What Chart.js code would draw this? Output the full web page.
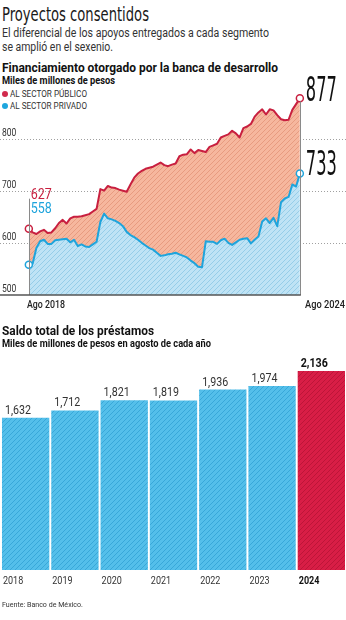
<!DOCTYPE html>
<html>
<head>
<meta charset="utf-8">
<script src="https://cdn.jsdelivr.net/npm/chart.js@4"></script>
<style>
html, body { margin: 0; padding: 0; background: #fff; }
body { width: 346px; height: 620px; position: relative; overflow: hidden; font-family: Roboto, "Open Sans", sans-serif; color: #222; }
.t { position: absolute; left: 2px; white-space: nowrap; line-height: 1; transform-origin: 0 50%; }
.b { font-weight: 700; color: #111; }
.dot { position: absolute; left: 2px; width: 6px; height: 6px; border-radius: 50%; }
canvas { position: absolute; left: 0; }
</style>
</head>
<body>
<div class="t" style="top:4px;font-size:20px;font-family:'Liberation Sans Narrow','DejaVu Sans Condensed',sans-serif;color:#1a1a1a" data-w="147">Proyectos consentidos</div>
<div class="t" style="top:27px;font-size:12.5px;color:#333" data-w="267">El diferencial de los apoyos entregados a cada segmento</div>
<div class="t" style="top:41px;font-size:12.5px;color:#333" data-w="111">se amplió en el sexenio.</div>

<div class="t b" style="top:62px;font-size:12.5px" data-w="276">Financiamiento otorgado por la banca de desarrollo</div>
<div class="t b" style="top:76px;font-size:10px" data-w="113">Miles de millones de pesos</div>
<div class="dot" style="top:91px;background:#d12a4d"></div>
<div class="t" style="left:10px;top:90px;font-size:9px;color:#333" data-w="77">AL SECTOR PÚBLICO</div>
<div class="dot" style="top:103px;background:#1ea6de"></div>
<div class="t" style="left:10px;top:102px;font-size:9px;color:#333" data-w="77">AL SECTOR PRIVADO</div>

<canvas id="lineas" width="346" height="250" style="top:60px;width:346px;height:250px"></canvas>
<div class="t" id="xIni" style="left:27px;top:300px;font-size:10px;font-weight:500;color:#222" data-w="38"></div>
<div class="t" id="xFin" style="left:305px;top:300px;font-size:10px;font-weight:500;color:#222" data-w="40"></div>

<div class="t b" style="top:325px;font-size:12.5px" data-w="152">Saldo total de los préstamos</div>
<div class="t b" style="top:339px;font-size:10px" data-w="209">Miles de millones de pesos en agosto de cada año</div>

<canvas id="barras" width="346" height="242" style="top:350px;width:346px;height:242px"></canvas>

<div class="t" style="top:601px;font-size:8px;color:#333" data-w="81">Fuente: Banco de México.</div>

<script>
// --- datos ---
const ejeX = ['Ago 2018', 'Ago 2024'];
const ejeY = [500, 600, 700, 800];

// mensual, ago 2018 - ago 2024
const publico = [
  627, 620, 617, 622, 625, 619, 620, 628, 638, 644,
  637, 647, 650, 650, 651, 653, 655, 660, 665, 703,
  700, 709, 706, 705, 702, 700, 698, 712, 725, 733,
  738, 742, 744, 746, 750, 754, 749, 747, 750, 752,
  766, 769, 770, 779, 772, 778, 776, 774, 784, 787,
  790, 802, 805, 808, 815, 810, 802, 820, 823, 828,
  842, 850, 856, 846, 856, 854, 845, 837, 835, 836,
  855, 866, 877
];
const privado = [
  558, 560, 590, 603, 606, 598, 598, 605, 606, 607,
  608, 601, 606, 594, 597, 593, 592, 597, 602, 640,
  656, 647, 645, 642, 638, 632, 621, 615, 611, 606,
  600, 595, 590, 587, 581, 575, 576, 578, 579, 581,
  578, 575, 572, 566, 561, 554, 553, 603, 602, 602,
  598, 605, 608, 600, 596, 601, 606, 608, 609, 599,
  606, 612, 641, 647, 638, 648, 632, 678, 685, 688,
  712, 708, 733
];

const anios = ['2018', '2019', '2020', '2021', '2022', '2023', '2024'];
const saldo = [1632, 1712, 1821, 1819, 1936, 1974, 2136];

// --- colores ---
const ROJO = '#c81f3f';
const AZUL = '#1ea4dc';

function rayado(base, linea) {
  const c = document.createElement('canvas');
  c.width = 5; c.height = 5;
  const g = c.getContext('2d');
  g.fillStyle = base;
  g.fillRect(0, 0, 5, 5);
  g.strokeStyle = linea;
  g.lineWidth = 1;
  g.beginPath();
  g.moveTo(-1, 6); g.lineTo(6, -1);
  g.moveTo(-1, 1); g.lineTo(1, -1);
  g.moveTo(4, 6); g.lineTo(6, 4);
  g.stroke();
  return g.createPattern(c, 'repeat');
}

// texto comprimido a un ancho
function textoAncho(ctx, txt, x, y, w) {
  const m = ctx.measureText(txt).width;
  ctx.save();
  ctx.translate(x, y);
  ctx.scale(w / m, 1);
  ctx.fillText(txt, 0, 0);
  ctx.restore();
}

function textoEscala(ctx, txt, x, y, s) {
  ctx.save();
  ctx.translate(x, y);
  ctx.scale(s, 1);
  ctx.fillText(txt, 0, 0);
  ctx.restore();
}

document.getElementById('xIni').textContent = ejeX[0];
document.getElementById('xFin').textContent = ejeX[1];

// ajustar anchos de textos html
document.querySelectorAll('[data-w]').forEach(el => {
  const w = el.getBoundingClientRect().width;
  el.style.transform = 'scaleX(' + (parseFloat(el.dataset.w) / w) + ')';
});

// --- grafica de lineas ---
const ultimo = publico.length - 1;

const decoLineas = {
  id: 'decoLineas',
  beforeDatasetsDraw(chart) {
    const { ctx, scales: { x, y }, width } = chart;
    ctx.save();
    ctx.font = '10px Roboto';
    ctx.fillStyle = '#333';
    ctx.textBaseline = 'bottom';
    ejeY.forEach(v => {
      const py = Math.round(y.getPixelForValue(v)) + 0.5;
      if (v !== ejeY[0]) {
        ctx.strokeStyle = '#a0a0a0';
        ctx.lineWidth = 1;
        ctx.setLineDash([1, 2]);
        ctx.beginPath();
        ctx.moveTo(0, py);
        ctx.lineTo(width, py);
        ctx.stroke();
        ctx.setLineDash([]);
      }
      textoEscala(ctx, String(v), 2, py - 1, 0.85);
    });
    ctx.restore();
  },
  afterDatasetsDraw(chart) {
    const { ctx, scales: { x, y } } = chart;
    const x0 = x.getPixelForValue(0);
    const x1 = x.getPixelForValue(ultimo);
    const base = y.getPixelForValue(ejeY[0]);
    ctx.save();
    // guias verticales
    ctx.strokeStyle = '#8a8a8a';
    ctx.lineWidth = 1;
    ctx.beginPath();
    ctx.moveTo(Math.round(x0) + 0.5, y.getPixelForValue(ejeY[2]) + 8);
    ctx.lineTo(Math.round(x0) + 0.5, base);
    ctx.moveTo(Math.round(x1) + 0.5, y.getPixelForValue(publico[ultimo]) + 3);
    ctx.lineTo(Math.round(x1) + 0.5, base);
    ctx.stroke();
    // eje base
    ctx.strokeStyle = '#555';
    ctx.lineWidth = 1.5;
    ctx.beginPath();
    ctx.moveTo(0, base);
    ctx.lineTo(x1 + 1, base);
    ctx.stroke();

    // valores iniciales
    const yl = y.getPixelForValue(ejeY[2]);
    ctx.font = '15px Roboto';
    ctx.textBaseline = 'alphabetic';
    ctx.fillStyle = ROJO;
    textoAncho(ctx, String(publico[0]), x0 + 2, yl + 8, 21);
    ctx.fillStyle = AZUL;
    textoAncho(ctx, String(privado[0]), x0 + 2, yl + 22, 21);

    // valores finales
    ctx.fillStyle = '#111';
    ctx.font = '33px "Liberation Sans Narrow", "DejaVu Sans Condensed", Roboto';
    textoAncho(ctx, String(publico[ultimo]), x1 + 6, y.getPixelForValue(publico[ultimo]) + 3, 31);
    textoAncho(ctx, String(privado[ultimo]), x1 + 6, y.getPixelForValue(privado[ultimo]) + 1.5, 31);
    ctx.restore();
  }
};

const puntoFin = c => (c.dataIndex === 0 || c.dataIndex === ultimo) ? 3.5 : 0;

new Chart(document.getElementById('lineas'), {
  type: 'line',
  data: {
    datasets: [
      {
        label: 'AL SECTOR PRIVADO',
        data: privado.map((v, i) => ({ x: i, y: v })),
        borderColor: AZUL,
        borderWidth: 2,
        backgroundColor: rayado('#bfe3f5', '#96cde8'),
        fill: 'start',
        pointRadius: puntoFin,
        pointBackgroundColor: '#fff',
        pointBorderColor: AZUL,
        pointBorderWidth: 1.5,
        clip: false
      },
      {
        label: 'AL SECTOR PÚBLICO',
        data: publico.map((v, i) => ({ x: i, y: v })),
        borderColor: ROJO,
        borderWidth: 2,
        backgroundColor: rayado('#f6b79e', '#e79b80'),
        fill: '-1',
        pointRadius: puntoFin,
        pointBackgroundColor: '#fff',
        pointBorderColor: ROJO,
        pointBorderWidth: 1.5,
        clip: false
      }
    ]
  },
  options: {
    responsive: false,
    animation: false,
    layout: { padding: { top: 0, bottom: 15, left: 0, right: 0 } },
    elements: { line: { tension: 0, borderJoinStyle: 'round' } },
    scales: {
      x: { type: 'linear', display: false, min: -6.2, max: 82.8 },
      y: { display: false, min: 500, max: 940 }
    },
    plugins: { legend: { display: false }, tooltip: { enabled: false } }
  },
  plugins: [decoLineas]
});

// --- grafica de barras ---
const decoBarras = {
  id: 'decoBarras',
  afterDatasetsDraw(chart) {
    const { ctx, chartArea } = chart;
    const meta = chart.getDatasetMeta(0);
    ctx.save();
    ctx.textBaseline = 'alphabetic';
    meta.data.forEach((bar, i) => {
      const izq = bar.x - bar.width / 2;
      const fin = i === saldo.length - 1;
      ctx.fillStyle = fin ? '#111' : '#333';
      ctx.font = (fin ? '700 ' : '') + '13px Roboto';
      textoEscala(ctx, saldo[i].toLocaleString('en-US'), izq + 3, bar.y - 4, 0.82);
      ctx.font = (fin ? '700 ' : '') + '11px Roboto';
      textoEscala(ctx, anios[i], izq + 1, chartArea.bottom + 14, 0.82);
    });
    ctx.restore();
  }
};

const rayaAzul = rayado('#54bfea', '#38a8d9');
const rayaRoja = rayado('#d81e46', '#bd1538');

new Chart(document.getElementById('barras'), {
  type: 'bar',
  data: {
    labels: anios,
    datasets: [{
      data: saldo,
      backgroundColor: c => c.dataIndex === saldo.length - 1 ? rayaRoja : rayaAzul,
      borderWidth: 0,
      barPercentage: 0.96,
      categoryPercentage: 1
    }]
  },
  options: {
    responsive: false,
    animation: false,
    layout: { padding: { top: 0, bottom: 22, left: 1, right: 0 } },
    scales: {
      x: { display: false },
      y: { display: false, min: 0, max: 2360 }
    },
    plugins: { legend: { display: false }, tooltip: { enabled: false } }
  },
  plugins: [decoBarras]
});
</script>
</body>
</html>
